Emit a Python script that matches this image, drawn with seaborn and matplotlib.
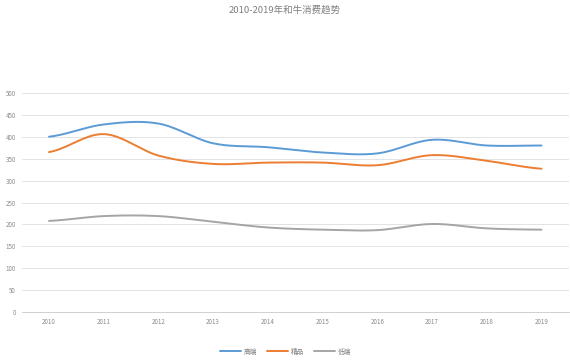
import numpy as np
import pandas as pd
import seaborn as sns
import matplotlib.pyplot as plt

# Data
years = ["2010", "2011", "2012", "2013", "2014", "2015", "2016", "2017", "2018", "2019"]
high_end = [400, 428, 430, 385, 376, 364, 362, 393, 380, 380]
premium = [365, 406, 357, 338, 341, 341, 335, 358, 345, 327]
low_end = [208, 219, 219, 206, 193, 188, 187, 201, 191, 188]
series_names = ["高端", "精品", "低端"]
colors = ["#5B9BD5", "#ED7D31", "#A5A5A5"]


def smooth(vals, n=30):
    # Catmull-Rom curve through the points, like Excel's smoothed line
    p = np.asarray(vals, dtype=float)
    p = np.concatenate([[p[0]], p, [p[-1]]])
    xs, ys = [], []
    for i in range(1, len(p) - 2):
        t = np.linspace(0, 1, n, endpoint=False)
        p0, p1, p2, p3 = p[i - 1], p[i], p[i + 1], p[i + 2]
        y = 0.5 * ((2 * p1) + (-p0 + p2) * t + (2 * p0 - 5 * p1 + 4 * p2 - p3) * t ** 2
                   + (-p0 + 3 * p1 - 3 * p2 + p3) * t ** 3)
        xs.extend(i - 1 + t)
        ys.extend(y)
    xs.append(len(vals) - 1)
    ys.append(vals[-1])
    return np.array(xs), np.array(ys)


frames = []
for name, vals in zip(series_names, [high_end, premium, low_end]):
    x, y = smooth(vals)
    frames.append(pd.DataFrame({"x": x, "y": y, "series": name}))
df = pd.concat(frames)

sns.set_style("white")
plt.rcParams["font.family"] = ["Noto Sans CJK SC", "DejaVu Sans"]

fig = plt.figure(figsize=(5.7, 3.6), dpi=100)
ax = fig.add_axes([0.038, 0.133, 0.96, 0.609])

sns.lineplot(data=df, x="x", y="y", hue="series", palette=colors,
             linewidth=1.4, ax=ax, sort=False, estimator=None)

ax.set_xlim(-0.5, len(years) - 0.5)
ax.set_ylim(0, 500)
ax.set_yticks(range(0, 501, 50))
ax.set_xticks(range(len(years)))
ax.set_xticklabels(years)
ax.grid(axis="y", color="#e3e3e3", linewidth=0.7)
ax.set_axisbelow(True)
for s in ["top", "right", "left"]:
    ax.spines[s].set_visible(False)
ax.spines["bottom"].set_color("#d0d0d0")
ax.spines["bottom"].set_linewidth(0.7)
ax.tick_params(axis="both", length=0, labelsize=4.5, labelcolor="#8c8c8c", pad=4)
ax.set_xlabel("")
ax.set_ylabel("")

fig.suptitle("2010-2019年和牛消费趋势", x=0.5, y=0.985, fontsize=6.8, color="#7f7f7f")

ax.legend(loc="center", bbox_to_anchor=(0.5 - 0.018, -0.18), ncol=3, frameon=False,
          fontsize=4.8, labelcolor="#7f7f7f", handlelength=3.2, columnspacing=1.5,
          handletextpad=0.4)

fig.savefig("out.png", dpi=100)
